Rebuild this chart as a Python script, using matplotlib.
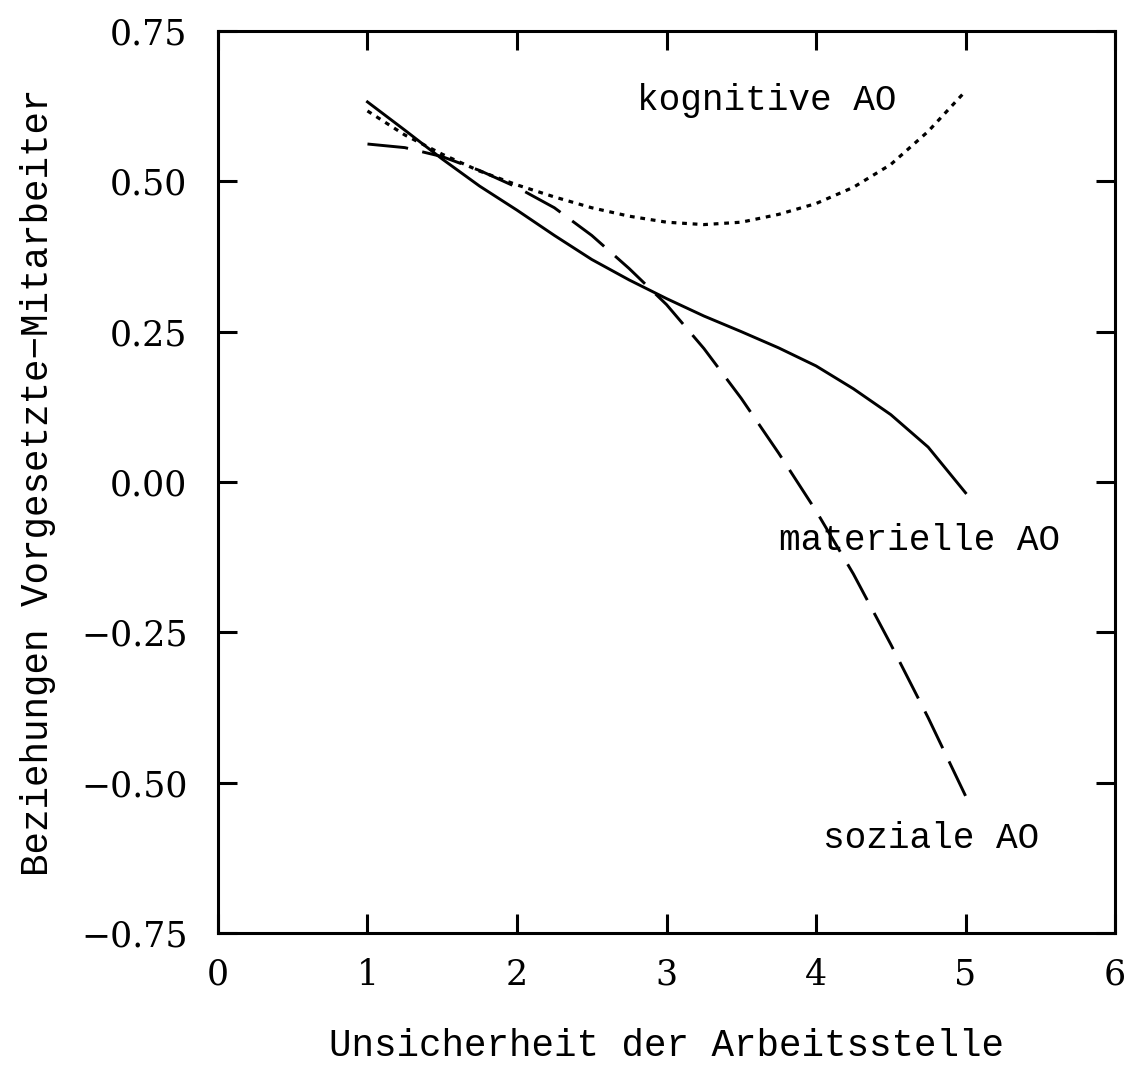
import numpy as np
import matplotlib
matplotlib.use("Agg")
import matplotlib.pyplot as plt

# Data
x = [1.0, 1.25, 1.5, 1.75, 2.0, 2.25, 2.5, 2.75, 3.0,
     3.25, 3.5, 3.75, 4.0, 4.25, 4.5, 4.75, 5.0]
materielle = [0.632, 0.585, 0.537, 0.492, 0.452, 0.410, 0.370, 0.336, 0.305,
              0.276, 0.250, 0.223, 0.193, 0.155, 0.112, 0.058, -0.018]
soziale = [0.562, 0.556, 0.541, 0.518, 0.490, 0.456, 0.410, 0.355, 0.295,
           0.222, 0.139, 0.048, -0.048, -0.153, -0.270, -0.392, -0.522]
kognitive = [0.617, 0.577, 0.545, 0.517, 0.494, 0.474, 0.456, 0.442, 0.432,
             0.428, 0.432, 0.445, 0.463, 0.490, 0.528, 0.583, 0.650]

labels = ["kognitive AO", "materielle AO", "soziale AO"]
label_pos = [(2.80, 0.635), (3.75, -0.098), (4.05, -0.593)]

x_ticks = [0, 1, 2, 3, 4, 5, 6]
y_ticks = [-0.75, -0.50, -0.25, 0.00, 0.25, 0.50, 0.75]

TICK_FONT = "DejaVu Serif"
TEXT_FONT = "Liberation Mono"

fig = plt.figure(figsize=(11.27, 10.75), dpi=100)
ax = fig.add_axes([0.1934, 0.1321, 0.796, 0.8391])

ax.plot(x, materielle, color="black", lw=2.1, linestyle="-")
ax.plot(x, soziale, color="black", lw=2.1, linestyle=(0, (14, 5)))
ax.plot(x, kognitive, color="black", lw=2.3, linestyle=(0, (1.5, 1.8)))

for txt, (lx, ly) in zip(labels, label_pos):
    ax.text(lx, ly, txt, family=TEXT_FONT, fontsize=26, ha="left", va="center")

ax.set_xlim(0, 6)
ax.set_ylim(-0.75, 0.75)
ax.set_xticks(x_ticks)
ax.set_yticks(y_ticks)
ax.set_xticklabels([str(t) for t in x_ticks], family=TICK_FONT, fontsize=25)
ax.set_yticklabels([f"{t:.2f}".replace("-", "\u2212") for t in y_ticks],
                   family=TICK_FONT, fontsize=25)
ax.tick_params(direction="in", length=14, width=2.2, top=True, right=True,
               labeltop=False, labelright=False)
ax.tick_params(axis="x", pad=18)
ax.tick_params(axis="y", pad=22)
for sp in ax.spines.values():
    sp.set_linewidth(2.2)

ax.set_xlabel("Unsicherheit der Arbeitsstelle", family=TEXT_FONT,
              fontsize=27, labelpad=26)
ax.set_ylabel("Beziehungen Vorgesetzte\u2212Mitarbeiter", family=TEXT_FONT,
              fontsize=27, labelpad=18)

fig.savefig("out.png", dpi=100, facecolor="white")
